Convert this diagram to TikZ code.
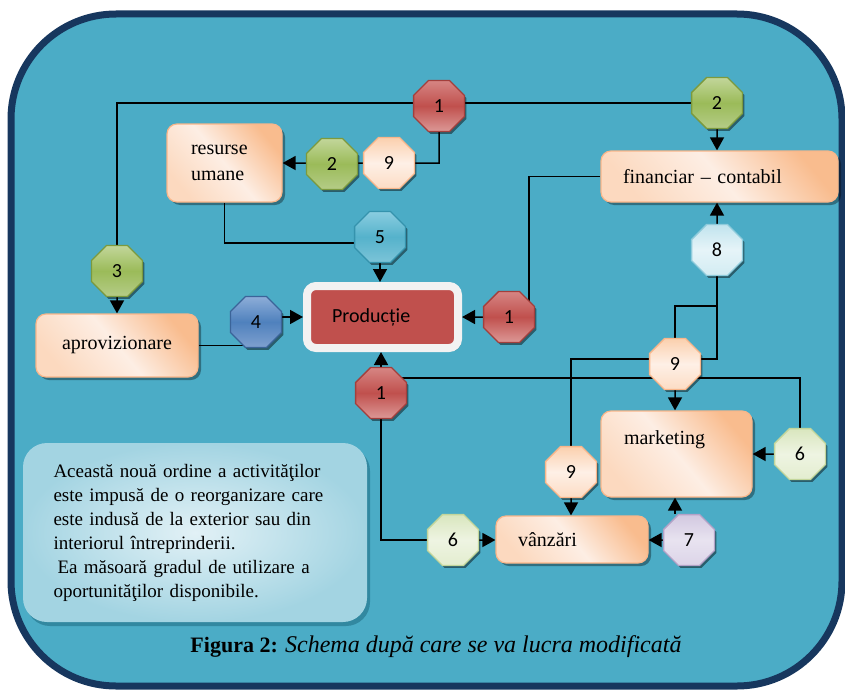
\documentclass[tikz,border=0pt]{standalone}
\usepackage{fontspec}
\setmainfont{Liberation Serif}
\newfontfamily\calibfont{Carlito}
\usetikzlibrary{shapes.geometric,arrows.meta,shadows,positioning}

\definecolor{seaBlue}{HTML}{4BACC6}
\definecolor{frameNavy}{HTML}{17375E}
\definecolor{peachEdge}{HTML}{F9B68A}
\definecolor{peachDark}{HTML}{F9BC8E}
\definecolor{peachPale}{HTML}{FDEEE4}
\definecolor{peachLight}{HTML}{FCD9BF}
\definecolor{prodRed}{HTML}{C0504D}
\definecolor{prodRim}{HTML}{F2F2F2}
\definecolor{noteIn}{HTML}{E2F1F6}
\definecolor{noteOut}{HTML}{A3D4E2}
\definecolor{noteShade}{HTML}{2C7F97}
% octagon colours: edge, top, middle, bottom
\definecolor{redE}{HTML}{A33F3C}\definecolor{redT}{HTML}{D68583}\definecolor{redM}{HTML}{C0504D}\definecolor{redB}{HTML}{DC9896}
\definecolor{grnE}{HTML}{7C9A3D}\definecolor{grnT}{HTML}{C2D69A}\definecolor{grnM}{HTML}{9BBB59}\definecolor{grnB}{HTML}{B5CC87}
\definecolor{bluE}{HTML}{3B6499}\definecolor{bluT}{HTML}{8DADD8}\definecolor{bluM}{HTML}{4F81BD}\definecolor{bluB}{HTML}{7FA0CF}
\definecolor{aquE}{HTML}{3593AD}\definecolor{aquT}{HTML}{8ACDE0}\definecolor{aquM}{HTML}{55B2CB}\definecolor{aquB}{HTML}{7CC4D8}
\definecolor{pchE}{HTML}{F9B68A}\definecolor{pchT}{HTML}{FBD0AE}\definecolor{pchM}{HTML}{FEF0E6}\definecolor{pchB}{HTML}{FCDCC4}
\definecolor{mntE}{HTML}{C3D69B}\definecolor{mntT}{HTML}{D9E6BE}\definecolor{mntM}{HTML}{EEF4E2}\definecolor{mntB}{HTML}{E3EDCF}
\definecolor{lilE}{HTML}{B3A2C7}\definecolor{lilT}{HTML}{D2C8E0}\definecolor{lilM}{HTML}{E8E3F0}\definecolor{lilB}{HTML}{DCD4E8}
\definecolor{iceE}{HTML}{8ECBDB}\definecolor{iceT}{HTML}{C1E4EE}\definecolor{iceM}{HTML}{E6F4F8}\definecolor{iceB}{HTML}{D2ECF3}

\pgfdeclarelayer{back}
\pgfdeclarelayer{wires}
\pgfsetlayers{back,wires,main}

\tikzset{
  octa/.style n args={4}{regular polygon,regular polygon sides=8,
    minimum size=55pt,inner sep=0pt,
    draw=#1,line width=1.3pt,top color=#2,bottom color=#4,middle color=#3,
    drop shadow={shadow xshift=2pt,shadow yshift=-2.5pt,opacity=.45,fill=black},
    font=\calibfont\fontsize{20}{20}\selectfont},
  octRed/.style={octa={redE}{redT}{redM}{redB}},
  octGreen/.style={octa={grnE}{grnT}{grnM}{grnB}},
  octBlue/.style={octa={bluE}{bluT}{bluM}{bluB}},
  octAqua/.style={octa={aquE}{aquT}{aquM}{aquB}},
  octPeach/.style={octa={pchE}{pchT}{pchM}{pchB}},
  octMint/.style={octa={mntE}{mntT}{mntM}{mntB}},
  octLilac/.style={octa={lilE}{lilT}{lilM}{lilB}},
  octIce/.style={octa={iceE}{iceT}{iceM}{iceB}},
  deptbox/.style={rectangle,rounded corners=10pt,draw=peachEdge,line width=1.2pt,
    top color=peachDark,bottom color=peachLight,middle color=peachPale,shading angle=-50,
    drop shadow={shadow xshift=3pt,shadow yshift=-3pt,opacity=.35,fill=black},
    font=\fontsize{20}{26}\selectfont},
  prodbox/.style={rectangle,rounded corners=9pt,fill=prodRed,draw=prodRim,line width=8pt,
    drop shadow={shadow xshift=3pt,shadow yshift=-3pt,opacity=.35,fill=black},
    font=\calibfont\fontsize{20}{24}\selectfont},
  notebox/.style={rectangle,rounded corners=24pt,inner color=noteIn,outer color=noteOut,
    drop shadow={shadow xshift=3pt,shadow yshift=-4pt,opacity=.8,fill=noteShade},
    font=\fontsize{19}{24}\selectfont},
  frame/.style={draw=frameNavy,fill=seaBlue,line width=7pt,rounded corners=105pt}
}

\begin{document}
\begin{tikzpicture}[x=1pt,y=-1pt,
  wire/.style={line width=1.5pt,black},
  arr/.style={wire,-{Triangle[length=13pt,width=14pt]}}]
\useasboundingbox (0,0) rectangle (845,693);
\begin{pgfonlayer}{back}
\draw[frame] (11,14) rectangle (842,686);
\end{pgfonlayer}

% departments
\node[deptbox,minimum width=115pt,minimum height=78pt,text width=67pt,inner xsep=24pt,align=left] (resurse) at (224.5,163) {resurse\\umane};
\node[deptbox,minimum width=162pt,minimum height=63pt] (aprov) at (117,345.5) {aprovizionare};
\node[deptbox,minimum width=237pt,minimum height=51pt,text width=193pt,inner xsep=22pt,align=left] (finan) at (719.5,176.5) {financiar – contabil};
\node[deptbox,minimum width=151pt,minimum height=86pt,text width=105pt,inner xsep=23pt,align=left] (mark) at (676.5,454) {\raisebox{10pt}[0pt][0pt]{marketing}};
\node[deptbox,minimum width=152pt,minimum height=47pt,text width=108pt,inner xsep=22pt,align=left] (vanz) at (572,539.5) {vânzări};
\node[prodbox,minimum width=151pt,minimum height=62pt,text width=101pt,inner xsep=25pt,align=left] (prod) at (382.5,317) {Producție};

% numbered steps
\node[octRed] (n1a) at (439,106) {1};
\node[octGreen] (n2a) at (717,103) {2};
\node[octGreen] (n2b) at (332,164) {2};
\node[octPeach] (n9a) at (389,163) {9};
\node[octGreen] (n3) at (117,271) {3};
\node[octBlue] (n4) at (256,322) {4};
\node[octAqua] (n5) at (380,237) {5};
\node[octRed] (n1b) at (509,317) {1};
\node[octIce] (n8) at (717,250) {8};
\node[octPeach] (n9b) at (675,364) {9};
\node[octRed] (n1c) at (381,393) {1};
\node[octPeach] (n9c) at (571,472) {9};
\node[octMint] (n6a) at (453,540) {6};
\node[octMint] (n6b) at (800,454) {6};
\node[octLilac] (n7) at (689,540) {7};
\coordinate (tap) at (717,306);

% note and caption
\node[notebox,minimum width=344pt,minimum height=179pt,text width=283pt] (note) at (195,532.5)
  {\parindent=0pt Această nouă ordine a activităţilor\linebreak este impusă de o reorganizare care\linebreak este indusă de la exterior sau din\linebreak interiorul întreprinderii.\par
   \hspace*{4pt}Ea măsoară gradul de utilizare a\linebreak oportunităţilor disponibile.};
\node (cap) at (436,647) {\fontsize{22}{24}\selectfont\textbf{Figura 2:} \textit{\fontsize{24}{24}\selectfont Schema după care se va lucra modificată}};

\begin{pgfonlayer}{wires}
\draw[wire] (n2a) -| (n3);
\draw[arr] (n3) -- (aprov.north -| n3);
\draw[arr] (n1a) |- (n9a) -- (resurse.east);
\draw[wire] (resurse) |- ([yshift=-6pt]n5.west);
\draw[arr] (n5) -- (prod.north -| n5);
\draw[wire] (aprov.east) -- (aprov.east -| n4);
\draw[arr] (n4.east |- prod) -- (prod.west);
\draw[arr] (n1b) -- (prod);
\draw[wire] ([xshift=20pt]n1b.center) |- (finan.west);
\draw[arr] (n2a) -- (finan.north -| n2a);
\draw[arr] (n8) -- (finan.south -| n8);
\draw[wire] (n8) |- ([yshift=5pt]n9b.east);
\draw[wire] (tap) -| (n9b);
\draw[wire] ([yshift=5pt]n9b.west) -| (n9c);
\draw[arr] (n9b) -- (mark.north -| n9b);
\draw[wire] ([yshift=15pt]n1c.center) -| (n6b);
\draw[arr] (n1c) -- (prod.south -| n1c);
\draw[wire] (n1c) |- (n6a);
\draw[arr] (n6a) -- (vanz.west |- n6a);
\draw[arr] (n9c) -- (vanz.north -| n9c);
\draw[arr] (n7) -- (vanz.east |- n7);
\draw[arr] (n7.north -| n9b) -- (mark.south -| n9b);
\draw[arr] (n6b) -- (mark);
\end{pgfonlayer}
\end{tikzpicture}
\end{document}
